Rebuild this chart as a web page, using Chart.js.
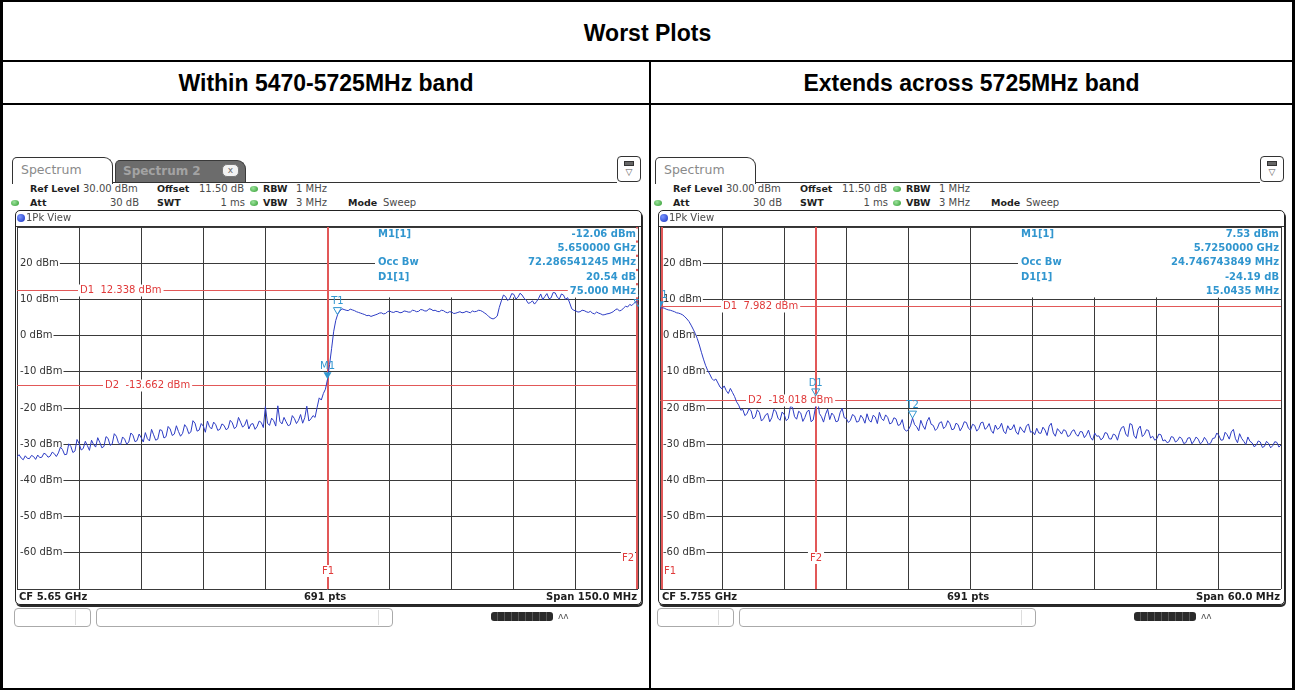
<!DOCTYPE html>
<html><head><meta charset="utf-8">
<script src="https://cdn.jsdelivr.net/npm/chart.js@4.4.1/dist/chart.umd.min.js"></script>
<style>
*{box-sizing:border-box;}
html,body{margin:0;padding:0;background:#fff;}
body{width:1295px;height:690px;position:relative;overflow:hidden;font-family:"DejaVu Sans",sans-serif;}
.a{position:absolute;}
.hd{position:absolute;font-family:"Liberation Sans",Arial,sans-serif;font-weight:bold;font-size:23px;color:#000;text-align:center;line-height:26px;}
.t{position:absolute;font-size:10px;line-height:12px;color:#4a4a4a;white-space:nowrap;}
.b{font-weight:bold;font-size:9.5px;color:#1e1e1e;}
.b2{font-weight:bold;font-size:10px;color:#1e1e1e;}
.tab{font-size:12.5px;color:#8a8a8a;line-height:14px;margin-top:-1px;}
.tab2{font-size:12px;font-weight:bold;color:#a3a3a3;line-height:14px;margin-top:-1px;}
.xbtn{font-size:9px;color:#666;}
.ico{font-size:9px;color:#555;}
canvas{position:absolute;}
</style>
</head><body>
<div class="a" style="left:0;top:0;width:1295px;height:690px;border-style:solid;border-color:#000;border-width:2px 3px 2px 3px;"></div>
<div class="a" style="left:0;top:60px;width:1295px;height:2px;background:#000;"></div>
<div class="a" style="left:0;top:103px;width:1295px;height:2px;background:#000;"></div>
<div class="a" style="left:649px;top:60px;width:2px;height:630px;background:#000;"></div>
<div class="hd" style="left:0;top:20px;width:1295px;">Worst Plots</div>
<div class="hd" style="left:3px;top:70px;width:646px;">Within 5470-5725MHz band</div>
<div class="hd" style="left:651px;top:70px;width:641px;">Extends across 5725MHz band</div>

<canvas id="c1" width="622" height="362" style="left:17px;top:227px;"></canvas>
<canvas id="c2" width="622" height="362" style="left:660px;top:227px;"></canvas>

<script>
// ---------------- DATA ----------------
const yTickValues = [20, 10, 0, -10, -20, -30, -40, -50, -60];
const yTickLabels = ['20 dBm', '10 dBm', '0 dBm', '-10 dBm', '-20 dBm', '-30 dBm', '-40 dBm', '-50 dBm', '-60 dBm'];
const yMin = -70, yMax = 30, yStep = 10;

// Left plot: CF 5.65 GHz, span 150 MHz (trace read every 0.5 MHz)
const leftStartMHz = 5575;
const leftStepMHz = 0.5;
const leftGridStepMHz = 15;
const leftLevels = [
  -33.5,-32.9,-33.8,-34.3,-33.2,-33.9,-34.0,-33.1,-33.4,-34.2,-33.0,-33.7,-33.6,-32.5,-32.8,-33.6,-33.3,-32.2,-32.6,-33.4,
  -32.4,-30.8,-31.5,-32.9,-32.8,-29.9,-30.6,-32.3,-31.9,-28.7,-29.8,-31.6,-31.2,-29.2,-30.4,-31.7,-28.9,-30.1,-30.8,-28.2,
  -29.5,-31.0,-30.6,-27.9,-28.4,-30.3,-29.9,-27.1,-27.8,-29.6,-30.2,-28.0,-28.6,-30.0,-29.4,-26.9,-27.5,-29.3,-29.0,-27.2,
  -28.2,-29.4,-26.8,-28.5,-29.1,-25.9,-27.4,-28.9,-28.6,-26.0,-26.2,-28.3,-27.9,-25.1,-25.8,-27.6,-27.2,-24.9,-26.5,-27.8,
  -27.0,-24.6,-25.4,-27.1,-26.6,-23.5,-24.2,-26.4,-26.1,-24.3,-25.0,-26.7,-23.6,-25.2,-25.8,-23.9,-24.6,-26.2,-25.9,-24.4,
  -24.8,-26.0,-25.6,-23.4,-24.1,-25.7,-25.2,-22.6,-23.9,-25.3,-24.7,-23.2,-25.8,-24.5,-24.3,-25.9,-25.1,-23.6,-24.0,-25.4,
  -19.6,-24.2,-24.8,-22.8,-23.5,-25.0,-19.4,-23.7,-24.4,-22.6,-23.8,-24.9,-24.6,-22.1,-22.9,-24.3,-23.4,-21.8,-24.2,-22.7,
  -19.5,-23.6,-23.0,-22.1,-22.6,-19.8,-17.2,-17.8,-16.0,-14.8,-12.06,-8.0,-3.5,1.2,4.2,6.0,6.8,7.4,7.2,7.0,
  6.9,7.3,7.1,6.9,6.6,6.4,6.2,6.0,5.8,5.5,5.6,5.3,5.5,5.7,5.9,6.2,6.3,6.0,6.1,6.6,
  6.8,6.5,6.4,6.7,6.6,6.3,6.4,6.8,6.7,6.5,6.5,7.0,6.9,6.6,6.7,7.2,7.1,6.8,6.8,7.4,
  7.3,6.9,7.0,6.7,6.6,7.0,6.9,6.5,6.3,6.6,6.5,6.1,6.2,6.4,6.6,6.3,6.4,6.7,6.5,6.3,
  6.8,6.6,6.7,7.0,6.9,6.6,6.2,5.8,5.2,4.8,4.6,4.9,5.4,7.8,9.6,11.2,10.8,9.7,10.2,11.6,
  11.4,10.1,10.6,11.7,11.2,10.3,9.8,8.9,9.1,9.6,8.7,9.4,10.3,11.5,9.9,10.8,11.6,10.2,10.4,11.9,
  11.8,10.6,10.1,11.5,11.2,10.0,10.5,9.0,7.4,7.0,6.8,6.5,6.6,7.0,6.9,6.6,6.4,6.7,6.2,6.0,
  6.5,6.2,6.0,5.7,5.8,6.0,6.1,6.3,6.6,7.1,7.4,6.8,7.0,7.6,8.1,7.9,8.6,8.3,8.9,9.4,
  9.2
];
const leftDisplayLines = [12.338, -13.662];
const leftFreqLines = [5650, 5725];
const leftMarkerLabels = ['M1', 'T1', 'T2'];
const leftMarkerFreqs = [5650, 5652.4, 5725];
const leftMarkerLevels = [-12.06, 5.8, 8.0];
const leftInfoLabels = ['M1[1]', '', 'Occ Bw', 'D1[1]', ''];
const leftInfoValues = ['-12.06 dBm', '5.650000 GHz', '72.286541245 MHz', '20.54 dB', '75.000 MHz'];

// Right plot: CF 5.755 GHz, span 60 MHz (trace read every 0.2 MHz)
const rightStartMHz = 5725;
const rightStepMHz = 0.2;
const rightGridStepMHz = 6;
const rightLevels = [
  7.53,7.7,7.6,7.3,7.1,7.0,6.8,6.6,6.3,6.2,
  6.0,5.7,5.2,4.6,3.9,2.9,1.8,0.6,-0.8,-2.6,
  -4.6,-6.5,-8.2,-9.6,-10.6,-11.8,-12.4,-12.0,-13.1,-14.2,
  -14.7,-13.9,-15.2,-16.0,-14.6,-15.7,-16.8,-18.3,-19.2,-20.6,
  -20.4,-22.1,-21.6,-20.2,-20.8,-23.0,-22.5,-20.5,-21.2,-23.6,
  -23.0,-21.9,-21.5,-23.8,-22.7,-20.4,-20.9,-22.8,-23.4,-21.1,
  -21.8,-23.5,-22.9,-19.6,-19.8,-22.4,-23.1,-20.9,-21.4,-23.7,
  -22.6,-21.0,-20.6,-23.8,-23.3,-20.2,-16.7,-21.5,-22.4,-23.9,
  -21.7,-20.3,-23.2,-21.4,-22.1,-23.8,-23.6,-21.3,-20.1,-22.7,
  -22.9,-24.0,-23.4,-21.8,-22.2,-23.9,-23.7,-22.0,-22.8,-24.2,
  -21.6,-23.4,-23.9,-22.0,-22.5,-24.3,-21.2,-22.9,-23.5,-21.9,
  -22.6,-24.4,-24.1,-22.7,-23.0,-24.8,-24.6,-23.2,-25.8,-26.4,
  -26.0,-24.9,-22.8,-24.6,-25.2,-26.3,-23.4,-24.9,-25.9,-23.7,
  -22.6,-24.5,-24.8,-26.2,-25.6,-24.1,-23.8,-25.7,-25.1,-23.5,
  -24.3,-26.0,-25.8,-24.2,-24.6,-26.3,-25.3,-23.8,-24.0,-25.6,
  -26.1,-24.5,-24.8,-26.4,-25.7,-24.1,-23.9,-25.9,-25.4,-24.3,
  -26.2,-27.0,-24.7,-25.9,-25.5,-24.2,-26.4,-27.1,-24.9,-26.0,
  -25.8,-24.6,-26.6,-27.3,-25.2,-26.1,-26.8,-25.0,-24.4,-26.7,
  -26.5,-27.4,-25.6,-26.9,-27.0,-25.3,-26.1,-27.6,-25.0,-24.2,
  -26.9,-27.8,-25.7,-26.4,-27.2,-26.0,-26.3,-27.9,-27.6,-26.4,
  -26.0,-27.3,-27.8,-26.5,-26.6,-28.2,-27.4,-26.1,-28.1,-28.9,
  -26.9,-27.8,-27.7,-28.8,-28.3,-26.8,-27.0,-28.5,-28.6,-27.2,
  -27.5,-28.9,-26.7,-25.4,-25.1,-27.2,-27.9,-24.3,-24.6,-27.6,
  -28.4,-25.8,-25.0,-27.9,-27.3,-26.0,-26.2,-28.3,-27.8,-28.9,
  -28.5,-27.2,-27.4,-29.1,-28.8,-29.6,-29.3,-27.9,-28.1,-29.4,
  -29.0,-28.0,-28.4,-29.8,-29.6,-28.3,-28.2,-29.9,-29.1,-28.0,
  -28.6,-29.9,-29.4,-28.1,-28.9,-30.1,-29.7,-28.4,-28.3,-26.9,
  -27.6,-28.9,-28.8,-26.7,-27.4,-28.6,-26.6,-25.9,-28.5,-29.6,
  -27.1,-28.4,-29.2,-30.1,-28.0,-29.2,-29.6,-30.7,-30.3,-29.1,
  -29.4,-30.9,-30.6,-29.2,-29.8,-31.0,-30.4,-29.3,-29.5,-30.8,
  -30.2
];
const rightDisplayLines = [7.982, -18.018];
const rightFreqLines = [5725, 5740.0435];
const rightMarkerLabels = ['M1', 'D1', 'T2'];
const rightMarkerFreqs = [5725, 5740.0435, 5749.4];
const rightMarkerLevels = [7.53, -16.66, -22.8];
const rightInfoLabels = ['M1[1]', '', 'Occ Bw', 'D1[1]', ''];
const rightInfoValues = ['7.53 dBm', '5.7250000 GHz', '24.746743849 MHz', '-24.19 dB', '15.0435 MHz'];

// ---------------- STYLE ----------------
const TRACE = '#2d3cc4';
const RED_LINE = '#e25858';
const RED_TXT = '#e03a3a';
const CYAN = '#3196cf';
const GRID = '#3a3a3a';
const FONT = '10px "DejaVu Sans"';
const INFO_FONT = 'bold 10px "DejaVu Sans"';

// ---------------- CHROME ----------------
function box(x, y, w, h, style) {
  const d = document.createElement('div'); d.className = 'a';
  Object.assign(d.style, {left: x + 'px', top: y + 'px', width: w + 'px', height: h + 'px'}, style || {});
  document.body.appendChild(d); return d;
}
function txt(x, cy, s, cls, align) {
  const d = document.createElement('div');
  d.className = 't ' + (cls || '');
  d.textContent = s;
  d.style.top = (cy - 6) + 'px';
  if (align === 'right') { d.style.left = (x - 200) + 'px'; d.style.width = '200px'; d.style.textAlign = 'right'; }
  else if (align === 'center') { d.style.left = (x - 100) + 'px'; d.style.width = '200px'; d.style.textAlign = 'center'; }
  else d.style.left = x + 'px';
  document.body.appendChild(d); return d;
}
function greenDot(x, cy) {
  box(x, cy - 3, 8, 6, {borderRadius: '50%', background: 'radial-gradient(circle at 40% 35%, #9be39b, #2f9a2f)'});
}
function buildPanel(p) {
  const dx = p.dx;
  box(dx + 12, 157, 101, 27, {border: '1px solid #333', borderBottom: 'none', borderRadius: '5px 9px 0 0', background: '#fff'});
  txt(dx + 21, 170, 'Spectrum', 'tab');
  if (p.tab2) {
    box(dx + 115, 160, 131, 23, {border: '1px solid #3a3a3a', borderBottom: 'none', borderRadius: '5px 9px 0 0', background: '#6c6c6c'});
    txt(dx + 123, 171, 'Spectrum 2', 'tab2');
    box(dx + 222, 164, 17, 13, {background: '#f2f2f2', border: '1px solid #777', borderRadius: '5px'});
    txt(dx + 230.5, 170, 'x', 'xbtn', 'center');
  }
  box(dx + 112, 182, 505, 1, {background: '#333'});
  box(dx + 617, 156, 24, 26, {border: '1px solid #333', borderRadius: '4px', background: '#fff'});
  box(dx + 624, 161, 10, 5, {background: '#666', border: '1px solid #333'});
  txt(dx + 629, 172, '▽', 'ico', 'center');
  // header rows
  txt(dx + 30, 189, 'Ref Level', 'b');
  txt(dx + 83, 189, '30.00 dBm');
  txt(dx + 157, 189, 'Offset', 'b');
  txt(dx + 199, 189, '11.50 dB');
  greenDot(dx + 250, 189);
  txt(dx + 263, 189, 'RBW', 'b');
  txt(dx + 296, 189, '1 MHz');
  greenDot(dx + 11, 203);
  txt(dx + 30, 203, 'Att', 'b');
  txt(dx + 139, 203, '30 dB', '', 'right');
  txt(dx + 157, 203, 'SWT', 'b');
  txt(dx + 245, 203, '1 ms', '', 'right');
  greenDot(dx + 250, 203);
  txt(dx + 263, 203, 'VBW', 'b');
  txt(dx + 296, 203, '3 MHz');
  txt(dx + 348, 203, 'Mode', 'b');
  txt(dx + 383, 203, 'Sweep');
  // diagram frame
  box(dx + 15, 210, 627, 395, {border: '1px solid #222', borderRadius: '5px', boxShadow: '1px 2px 0 #2a2a2a'});
  box(dx + 17, 214, 8, 8, {borderRadius: '50%', background: 'radial-gradient(circle at 35% 35%, #7b96ff, #1530c0)'});
  txt(dx + 26, 218, '1Pk View');
  box(dx + 16, 226, 625, 1, {background: '#333'});
  txt(dx + 19, 597, p.cf, 'b2');
  txt(dx + 325, 597, p.pts, 'b2', 'center');
  txt(dx + 637, 597, p.span, 'b2', 'right');
  // status bar
  box(dx + 14, 608, 77, 19, {border: '1px solid #aaa', borderRadius: '4px'});
  box(dx + 75, 610, 1, 15, {background: '#ddd'});
  box(dx + 96, 608, 297, 19, {border: '1px solid #aaa', borderRadius: '4px'});
  box(dx + 378, 610, 1, 15, {background: '#ddd'});
  box(dx + 491, 612, 62, 9, {borderRadius: '3px', background: 'repeating-linear-gradient(90deg,#2a2a2a 0 6px,#555 6px 7px)'});
  txt(dx + 558, 616, 'ʌʌ', 'ico');
}
buildPanel({dx: 0, tab2: true, cf: 'CF 5.65 GHz', pts: '691 pts', span: 'Span 150.0 MHz'});
buildPanel({dx: 643, tab2: false, cf: 'CF 5.755 GHz', pts: '691 pts', span: 'Span 60.0 MHz'});

// ---------------- CHART ----------------
function bgText(ctx, text, x, y, align, color, font, pad) {
  ctx.font = font;
  const w = ctx.measureText(text).width;
  const x0 = align === 'left' ? x : align === 'right' ? x - w : x - w / 2;
  const p = pad == null ? 2 : pad;
  ctx.fillStyle = '#fff';
  ctx.fillRect(x0 - p, y - 6, w + 2 * p, 12);
  ctx.fillStyle = color;
  ctx.textAlign = 'left';
  ctx.textBaseline = 'middle';
  ctx.fillText(text, x0, y);
}
const crisp = v => Math.round(v - 0.5) + 0.5;

const rsPlugin = {
  id: 'rs',
  beforeDatasetsDraw(chart, args, o) {
    const {ctx, chartArea: a, scales: {x, y}} = chart;
    const bottom = y.getPixelForValue(10) - 2;
    ctx.save();
    ctx.fillStyle = '#fff';
    ctx.fillRect(a.left + o.boxLeft, a.top + 1, a.right - a.left - o.boxLeft - 1, bottom - a.top - 1);
    ctx.strokeStyle = RED_LINE;
    ctx.lineWidth = 1;
    o.dLines.forEach(v => {
      const py = crisp(y.getPixelForValue(v));
      ctx.beginPath(); ctx.moveTo(a.left, py); ctx.lineTo(a.right, py); ctx.stroke();
    });
    ctx.lineWidth = 2;
    o.fLines.forEach(f => {
      const px = Math.min(Math.max(Math.round(x.getPixelForValue(f)), Math.round(a.left) + 2), Math.round(a.right) - 1);
      ctx.beginPath(); ctx.moveTo(px, a.top); ctx.lineTo(px, a.bottom); ctx.stroke();
    });
    ctx.restore();
  },
  afterDatasetsDraw(chart, args, o) {
    const {ctx, chartArea: a, scales: {x, y}} = chart;
    ctx.save();
    ctx.beginPath(); ctx.rect(a.left, a.top, a.right - a.left + 1, a.bottom - a.top + 1); ctx.clip();
    o.dLines.forEach((v, i) => {
      const py = crisp(y.getPixelForValue(v));
      bgText(ctx, 'D' + (i + 1) + '  ' + v.toFixed(3) + ' dBm', a.left + o.dLabelX[i], py, 'left', RED_TXT, FONT);
    });
    o.fLines.forEach((f, i) => {
      const px = Math.round(x.getPixelForValue(f));
      const align = px <= a.left + 1 ? 'left' : px >= a.right - 1 ? 'right' : 'center';
      const tx = align === 'left' ? px + 4 : align === 'right' ? px - 4 : px;
      bgText(ctx, 'F' + (i + 1), tx, a.bottom - o.fLabelDy[i], align, RED_TXT, FONT, align === 'center' ? 2 : 1);
    });
    o.markerLabels.forEach((lab, i) => {
      const px = x.getPixelForValue(o.markerFreqs[i]);
      const py = y.getPixelForValue(o.markerLevels[i]);
      ctx.beginPath();
      ctx.moveTo(px - 4, py - 7); ctx.lineTo(px + 4, py - 7); ctx.lineTo(px, py); ctx.closePath();
      ctx.fillStyle = CYAN; ctx.strokeStyle = CYAN; ctx.lineWidth = 1;
      if (i === 0) ctx.fill(); else ctx.stroke();
      ctx.font = FONT; ctx.textAlign = 'center'; ctx.textBaseline = 'middle';
      ctx.fillText(lab, px, py - 13);
    });
    o.infoLabels.forEach((s, i) => {
      const ty = a.top + o.infoTop + i * o.infoStep;
      if (s) bgText(ctx, s, a.left + o.boxLeft + 3, ty, 'left', CYAN, INFO_FONT);
      if (o.infoValues[i]) bgText(ctx, o.infoValues[i], a.right - 2, ty, 'right', CYAN, INFO_FONT);
    });
    ctx.restore();
  }
};

function chartConfig(c) {
  const pts = c.levels.map((v, i) => ({x: c.start + i * c.step, y: v}));
  const xmin = c.start, xmax = c.start + (c.levels.length - 1) * c.step;
  const datasets = [{data: pts, borderColor: TRACE, borderWidth: 1, pointRadius: 0, tension: 0}];
  return {
    type: 'line',
    data: {datasets},
    options: {
      responsive: false, animation: false, events: [],
      layout: {padding: 0},
      plugins: {
        legend: {display: false}, tooltip: {enabled: false},
        rs: {
          boxLeft: 358, dLines: c.dLines, dLabelX: [63, 88], fLines: c.fLines, fLabelDy: [18, 31],
          markerLabels: c.markerLabels, markerFreqs: c.markerFreqs, markerLevels: c.markerLevels,
          infoLabels: c.infoLabels, infoValues: c.infoValues, infoTop: 7.5, infoStep: 14.2
        }
      },
      scales: {
        x: {type: 'linear', min: xmin, max: xmax,
            ticks: {display: false, stepSize: c.gridStep},
            grid: {color: GRID, drawTicks: false, lineWidth: 1}, border: {display: false}},
        y: {type: 'linear', min: yMin, max: yMax,
            ticks: {stepSize: yStep, mirror: true, padding: 3, autoSkip: false,
                    font: {family: 'DejaVu Sans', size: 10}, color: '#333',
                    callback: v => { const i = yTickValues.indexOf(v); return i >= 0 ? yTickLabels[i] : ''; },
                    showLabelBackdrop: ctx => yTickValues.includes(ctx.tick.value),
                    backdropColor: '#fff', backdropPadding: {left: 2, right: 1, top: 0, bottom: 0}},
            grid: {color: GRID, drawTicks: false, lineWidth: 1}, border: {display: false}}
      }
    },
    plugins: [rsPlugin]
  };
}

// place the canvas so that the plotting area lands on the analyzer grid
function makeChart(id, c, plotLeft, plotTop, plotW, plotH) {
  const cv = document.getElementById(id);
  let ch = new Chart(cv, chartConfig(c));
  const a = ch.chartArea;
  const padL = a.left, padT = a.top, padR = cv.width - a.right, padB = cv.height - a.bottom;
  ch.destroy();
  cv.width = Math.round(plotW + padL + padR + 1);
  cv.height = Math.round(plotH + padT + padB + 1);
  cv.style.width = cv.width + 'px';
  cv.style.height = cv.height + 'px';
  cv.style.left = Math.round(plotLeft - padL) + 'px';
  cv.style.top = Math.round(plotTop - padT) + 'px';
  const cfg = chartConfig(c);
  cfg.options.layout.padding = {right: 1, bottom: 1};
  return new Chart(cv, cfg);
}

makeChart('c1', {start: leftStartMHz, step: leftStepMHz, gridStep: leftGridStepMHz, levels: leftLevels,
  dLines: leftDisplayLines, fLines: leftFreqLines, markerLabels: leftMarkerLabels, markerFreqs: leftMarkerFreqs,
  markerLevels: leftMarkerLevels, infoLabels: leftInfoLabels, infoValues: leftInfoValues}, 17, 227, 621, 361);
makeChart('c2', {start: rightStartMHz, step: rightStepMHz, gridStep: rightGridStepMHz, levels: rightLevels,
  dLines: rightDisplayLines, fLines: rightFreqLines, markerLabels: rightMarkerLabels, markerFreqs: rightMarkerFreqs,
  markerLevels: rightMarkerLevels, infoLabels: rightInfoLabels, infoValues: rightInfoValues}, 660, 227, 621, 361);
</script>
</body></html>
